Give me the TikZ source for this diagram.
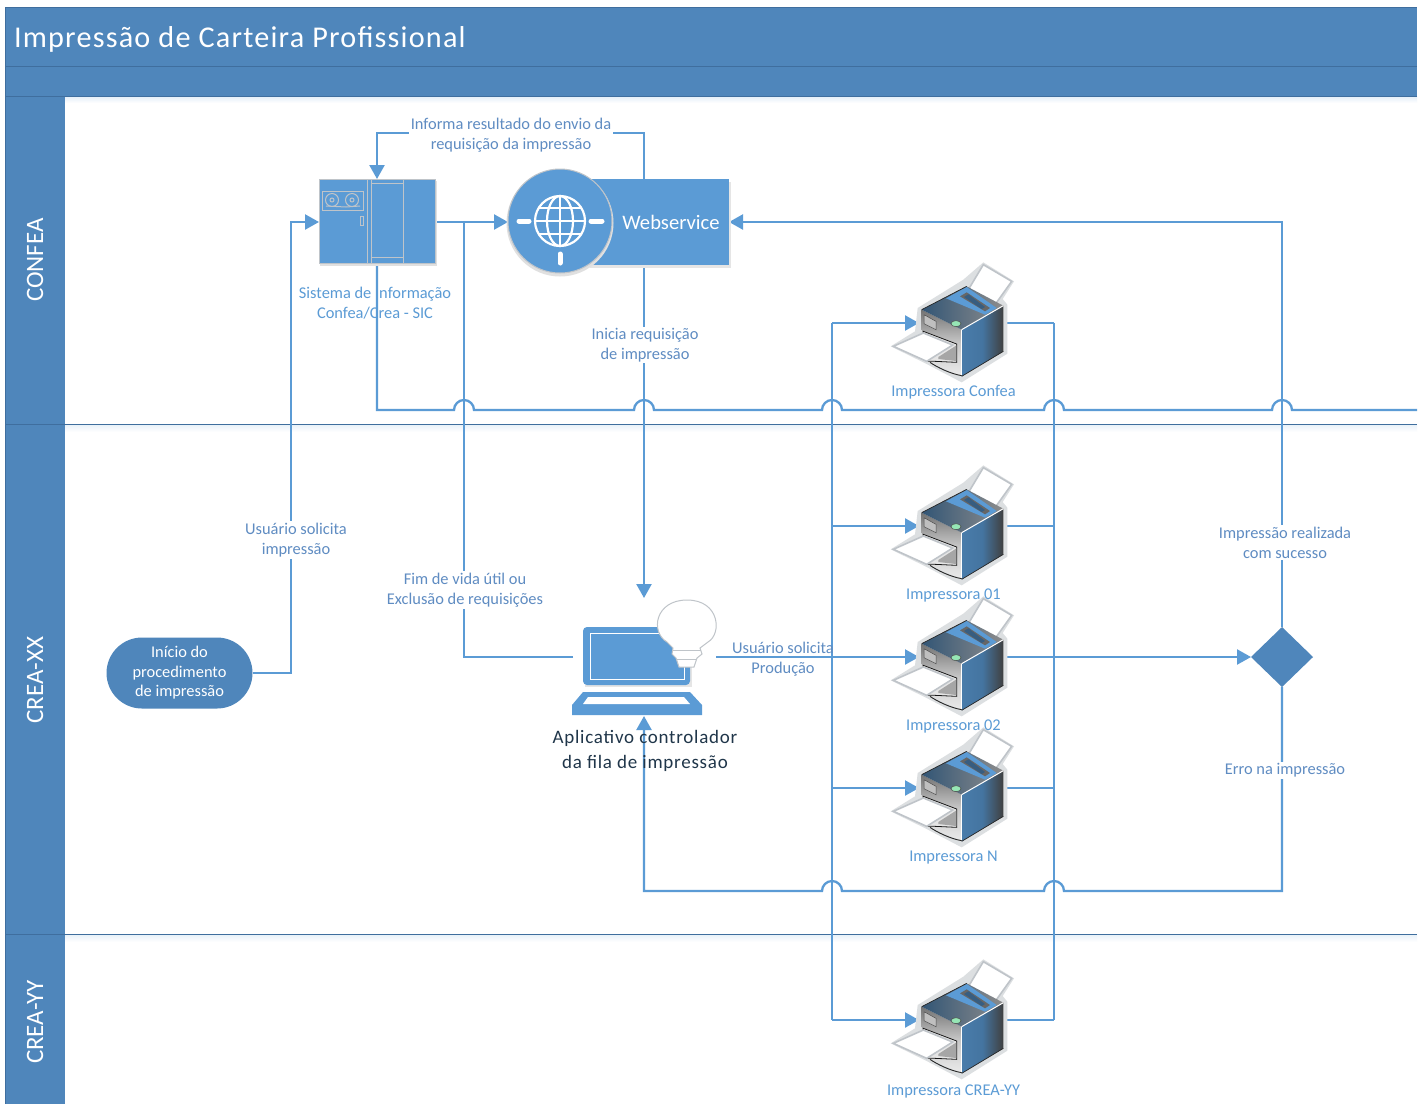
\documentclass[tikz,border=0pt]{standalone}
\usepackage{fontspec}
\setmainfont{Carlito}
\newfontfamily\titlef[LetterSpace=4]{Carlito}
\newfontfamily\lapf[LetterSpace=4]{Carlito}
\usetikzlibrary{arrows.meta,shapes.geometric,shapes.misc}
\definecolor{band}{HTML}{4F86BB}
\definecolor{bandline}{HTML}{3F6E9E}
\definecolor{conn}{HTML}{5B9BD5}
\definecolor{lbl}{HTML}{5F8CC2}
\definecolor{plbl}{HTML}{5B9BD5}
\definecolor{rim}{HTML}{BFC4C9}
\newcommand\jmp[2]{-- ({#1-10},#2) arc[start angle=180,end angle=0,radius=10pt]}
\newcommand\jmpl[2]{-- ({#1+10},#2) arc[start angle=0,end angle=180,radius=10pt]}
\tikzset{
 every node/.style={inner sep=0pt,outer sep=0pt},
 conline/.style={draw=conn,line width=2.3pt,line join=miter},
 arr/.style={conline,-{Triangle[length=14pt,width=15pt]}},
 clabel/.style={text=lbl,font=\fontsize{16.4}{20}\selectfont,align=center,fill=white,inner sep=1.5pt},
 flabel/.style={text=lbl,font=\fontsize{16.4}{20}\selectfont,align=center},
 plabel/.style={text=plbl,font=\fontsize{16.4}{20}\selectfont,align=center},
 lane/.style={rotate=90,text=white,font=\fontsize{25}{29}\selectfont},
 pbox/.style={minimum width=86pt,minimum height=2pt},
 printer/.pic={
  \begin{scope}[x=.3333pt,y=-.3333pt,shift={(-420,-220)}]
   % halo
   \fill[rim!55] (212,290) -- (285,245) -- (293,175) -- (430,90) -- (490,38) -- (582,95) -- (548,148) -- (562,165) -- (562,312) -- (425,398) -- (318,342) -- cycle;
   % paper behind
   \filldraw[fill=white,draw=rim,line width=1.6pt] (490,45) -- (575,95) -- (520,172) -- (445,120) -- cycle;
   % right face
   \shade[left color=conn!80!black,right color=black!75,middle color=conn!75!black] (425,240) -- (550,168) -- (550,305) -- (425,380) -- cycle;
   % front face
   \shade[top color=black!55,bottom color=black!8,middle color=black!22] (305,180) -- (425,240) -- (425,380) -- (325,335) -- (305,240) -- cycle;
   % top
   \shade[left color=conn!55!black,right color=black!45] (305,180) -- (440,110) -- (550,168) -- (425,240) -- cycle;
   \fill[conn] (378,146) -- (440,112) -- (530,175) -- (495,195) -- cycle;
   \fill[black!60] (420,140) -- (440,128) -- (510,175) -- (495,185) -- cycle;
   \fill[conn!60!black] (432,142) -- (445,134) -- (495,172) -- (485,178) -- cycle;
   \draw[white,line width=1pt] (425,240) -- (550,168);
   \draw[white,line width=.9pt] (425,240) -- (425,380);
   \draw[black!85,line width=.7pt] (550,305) -- (425,380) (305,180) -- (440,110);
   \filldraw[fill=black!25,draw=black!70,line width=.5pt] (312,195) -- (348,215) -- (348,240) -- (312,222) -- cycle;
   \filldraw[fill=conn!50!green!50,draw=black!70,line width=.5pt] (408,222) ellipse (15 and 9);
   % tray and front paper
   \filldraw[fill=black!10,draw=black!90,line width=.8pt] (310,245) -- (410,283) -- (410,338) -- (345,335) -- (320,335) -- cycle;
   \filldraw[fill=white,draw=rim,line width=1.6pt] (220,290) -- (310,250) -- (398,286) -- (320,335) -- cycle;
   \fill[black!35] (355,322) -- (408,288) -- (408,334) -- (355,328) -- cycle;
   \draw[black!85,line width=.9pt] (330,338) .. controls (350,352) and (390,372) .. (425,378);
  \end{scope}
 }
}
\begin{document}
\begin{tikzpicture}[x=1pt,y=-1pt]
\useasboundingbox (0,0) rectangle (1426,1104);
\fill[white] (0,0) rectangle (1426,1104);
% soft shadows below bands
\shade[top color=conn!18,bottom color=white] (65,96) rectangle (1417,103);
\shade[top color=conn!15,bottom color=white] (65,424) rectangle (1417,432);
\shade[top color=conn!15,bottom color=white] (65,934) rectangle (1417,942);
% bands
\fill[band] (5,7) rectangle (1417,96);
\fill[band] (5,96) rectangle (65,1104);
\draw[bandline,line width=.8pt] (5,7) -- (1417,7) (5,7) -- (5,1104) (5,66) -- (1417,66) (5,96) -- (1417,96) (65,424) -- (1417,424) (65,934) -- (1417,934) (5,424) -- (65,424) (5,934) -- (65,934);
\node[anchor=west,text=white,font=\titlef\fontsize{30.2}{36}\selectfont] (title) at (14,39) {Impressão de Carteira Profissional};
\node[lane] (l1) at (35,260) {CONFEA};
\node[lane] (l2) at (35,680) {CREA-XX};
\node[lane] (l3) at (35,1022) {CREA-YY};

% anchors for nodes (drawn on top afterwards)
\node[minimum width=116pt,minimum height=86pt] (sic) at (377,222) {};
\node[minimum width=221pt,minimum height=86pt] (ws) at (618.5,222) {};
\node[minimum width=143pt,minimum height=118pt] (lap) at (644.5,657) {};
\node[pbox] (pc) at (962,323) {};
\node[pbox] (p1) at (962,526) {};
\node[pbox] (p2) at (962,657) {};
\node[pbox] (pn) at (962,788) {};
\node[pbox] (py) at (962,1020) {};
\node[rounded rectangle,fill=band,minimum width=146pt,minimum height=71pt,text=white,align=center,font=\fontsize{16.4}{19.5}\selectfont] (start) at (179.5,673) {Início do\\procedimento\\de impressão};
\node[diamond,fill=band,minimum width=62pt,minimum height=60pt,aspect=1] (dec) at (1282,657) {};
\coordinate (wst) at (644,179);
\coordinate (wsb) at (644,265);
\coordinate (wstc) at (644,133);
\coordinate (sict) at (377,133);
\coordinate (sicb) at (377,265);
\coordinate (sicbl) at (377,410);
\coordinate (busend) at (1417,410);
\coordinate (ut) at (291,222);
\coordinate (fb) at (464,657);
\coordinate (ft) at (464,222);
\coordinate (tt) at (832,323);
\coordinate (tb) at (832,1020);
\coordinate (rt) at (1054,323);
\coordinate (rb) at (1054,1020);
\coordinate (dt) at (1282,222);
\coordinate (db) at (1282,891);
\coordinate (lb) at (644,891);

% connectors
\draw[arr] (start.east) -| (ut) -- (sic.west);
\draw[arr] (sic.east) -- (ws.west);
\draw[conline] (lap.west |- fb) -- (fb) -- (ft);
\draw[arr] (wst) -- (wstc) -- (sict) -- (sic.north);
\draw[arr] (wsb) -- (lap.north -| wsb);
\draw[conline] (sicb) -- (sicbl) \jmp{464}{410} \jmp{644}{410} \jmp{832}{410} \jmp{1054}{410} \jmp{1282}{410} -- (busend);
\draw[conline] (tt) -- (tb);
\draw[conline] (rt) -- (rb);
\draw[arr] (tt) -- (pc.west);
\draw[arr] (tt |- p1) -- (p1.west);
\draw[arr] (lap.east) -- (p2.west);
\draw[arr] (tt |- pn) -- (pn.west);
\draw[arr] (tb) -- (py.west);
\draw[conline] (pc.east) -- (rt);
\draw[conline] (p1.east) -- (rt |- p1);
\draw[conline] (pn.east) -- (rt |- pn);
\draw[conline] (py.east) -- (rb);
\draw[arr] (p2.east) -- (dec.west);
\draw[arr] (dec.north) -- (dt) -- (ws.east);
\draw[arr] (dec.south) -- (db) \jmpl{1054}{891} \jmpl{832}{891} -- (lb) -- (lap.south -| lb);

% SIC
\fill[black!12] (320,181) rectangle (437,266);
\fill[conn] (319,179) rectangle (435,263);
\draw[rim,line width=1pt] (319,179) rectangle (435,263);
\draw[rim,line width=1pt] (367,179) -- (367,263) (371,179) -- (371,263) (403,179) -- (403,263) (371,183) -- (403,183) (371,257) -- (403,257);
\draw[rim,line width=1pt] (322,191) rectangle (363,210);
\draw[rim,line width=1pt] (332,200) circle (6.5pt) (332,200) circle (2pt) (352,200) circle (6.5pt) (352,200) circle (2pt);
\draw[rim,line width=1pt] (326,206) -- (346,207) (346,207) -- (360,206);
\draw[rim,line width=1pt] (360,216) rectangle (363,225);
% Webservice
\fill[black!10] (590,182) rectangle (731,268);
\fill[conn] (590,179) rectangle (729,265);
\fill[black!12] (560,223) circle (53.5pt);
\filldraw[fill=conn,draw=rim,line width=1pt] (560,221) circle (52pt);
\begin{scope}[white,line width=2.2pt]
\draw (560,221) circle (25pt);
\draw (560,221) ellipse (13pt and 25pt);
\draw (560,196) -- (560,246);
\draw (535,221) -- (585,221);
\draw (539,208) -- (581,208) (539,234) -- (581,234);
\end{scope}
\draw[white,line width=5pt,line cap=round] (519,221) -- (529,221) (591,221) -- (602,221) (560,254) -- (560,263);
\node[text=white,font=\fontsize{20.6}{24}\selectfont] (wstxt) at (671,222) {Webservice};
% Laptop
\fill[black!10] (585,629) rectangle (692,687);
\fill[conn,rounded corners=4pt] (583,627) rectangle (690,685);
\draw[white,line width=1pt] (590,633) rectangle (684,679);
\fill[conn] (583,692) -- (690,692) -- (702,705) -- (702,715) -- (572,715) -- (572,705) -- cycle;
\fill[white] (588,697) -- (684,697) -- (690,704) -- (583,704) -- cycle;
\filldraw[fill=white,draw=rim,line width=1pt] (679,667) -- (694,667) -- (697,658) -- (702,654) -- (700,648) -- (708,642) .. controls (722,634) and (720,600) .. (687,600) .. controls (655,600) and (650,632) .. (667,642) -- (673,648) -- (672,654) -- (676,658) -- cycle;
\draw[rim,line width=.7pt] (673,650) -- (701,650) (677,659) -- (696,659);
% Printers
\pic at (960,323) {printer};
\pic at (960,526) {printer};
\pic at (960,657) {printer};
\pic at (960,788) {printer};
\pic at (960,1020) {printer};

% labels
\node[clabel] (t1) at (511,135) {Informa resultado do envio da\\requisição da impressão};
\node[clabel] (t2) at (645,345) {Inicia requisição\\de impressão};
\node[clabel] (t3) at (296,540) {Usuário solicita\\impressão};
\node[clabel] (t4) at (465,590) {Fim de vida útil ou\\Exclusão de requisições};
\node[clabel] (t5) at (1285,542.5) {Impressão realizada\\com sucesso};
\node[clabel] (t6) at (1285,770.5) {Erro na impressão};
\node[flabel] (t7) at (783,659) {Usuário solicita\\Produção};
\node[plabel] (t8) at (375,303.5) {Sistema de Informação\\Confea/Crea - SIC};
\node[plabel] (t9) at (953.5,392.5) {Impressora Confea};
\node[plabel] (t10) at (953.5,595.5) {Impressora 01};
\node[plabel] (t11) at (953.5,726.5) {Impressora 02};
\node[plabel] (t12) at (953.5,857.5) {Impressora N};
\node[plabel] (t13) at (953.5,1091.5) {Impressora CREA-YY};
\node[text=black!65!conn,align=center,font=\lapf\fontsize{19}{25}\selectfont] (t14) at (645,751) {Aplicativo controlador\\da fila de impressão};
\end{tikzpicture}
\end{document}
